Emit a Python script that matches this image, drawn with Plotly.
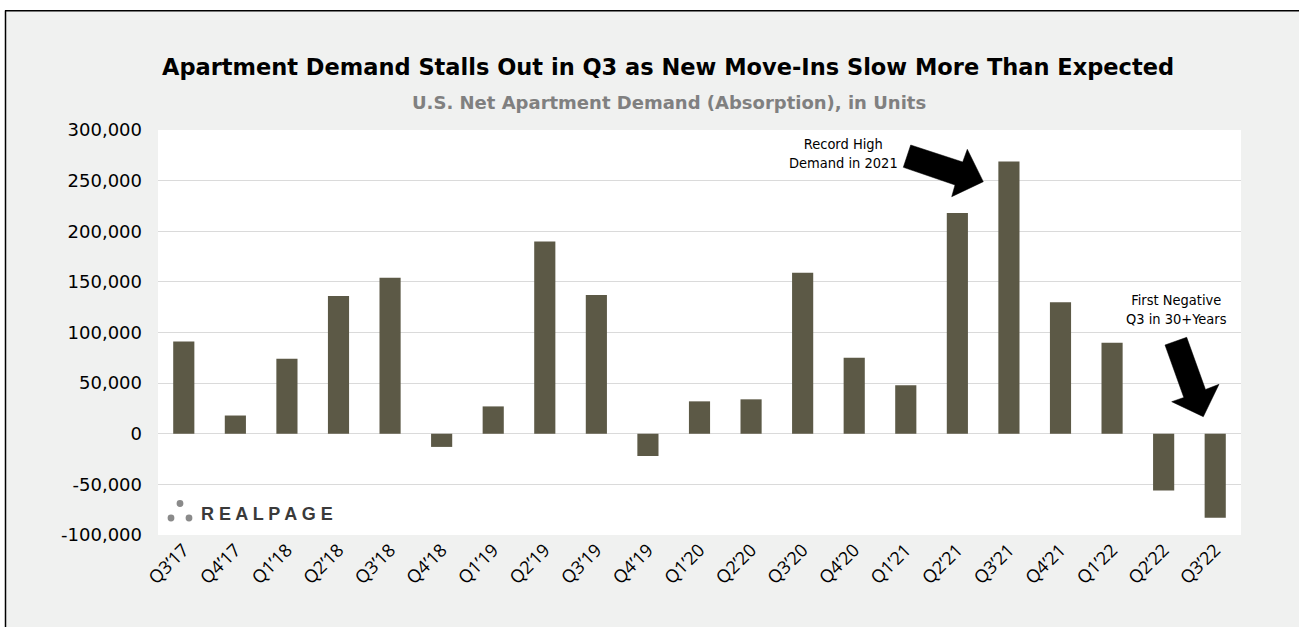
import plotly.graph_objects as go

# ---------------- data ----------------
quarters = ["Q3’17", "Q4’17", "Q1’18", "Q2’18", "Q3’18", "Q4’18", "Q1’19", "Q2’19",
            "Q3’19", "Q4’19", "Q1’20", "Q2’20", "Q3’20", "Q4’20", "Q1’21", "Q2’21",
            "Q3’21", "Q4’21", "Q1’22", "Q2’22", "Q3’22"]
net_demand = [91000, 18000, 74000, 136000, 154000, -13000, 27000, 190000,
              137000, -22000, 32000, 34000, 159000, 75000, 48000, 218000,
              269000, 130000, 90000, -56000, -83000]
y_tick_vals = [-100000, -50000, 0, 50000, 100000, 150000, 200000, 250000, 300000]
y_tick_text = ["-100,000", "-50,000", "0", "50,000", "100,000", "150,000",
               "200,000", "250,000", "300,000"]

title_text = "Apartment Demand Stalls Out in Q3 as New Move-Ins Slow More Than Expected"
subtitle_text = "U.S. Net Apartment Demand (Absorption), in Units"
note_high = "Record High<br>Demand in 2021"
note_neg = "First Negative<br>Q3 in 30+Years"

# ---------------- layout geometry (pixels) ----------------
W, H = 1299, 627
L, R, T, B = 158, 58, 130, 92
PW, PH = W - L - R, H - T - B

def px(x):
    return (x - L) / PW

def py(y):
    return (H - B - y) / PH

def poly(points):
    return "M " + " L ".join(f"{px(a):.5f},{py(b):.5f}" for a, b in points) + " Z"

arrow_high = [(910.7, 145), (962.7, 162), (967.3, 149.3), (983.3, 181.7),
              (951.7, 196.7), (955, 185), (903.3, 167.3)]
arrow_neg = [(1165, 345), (1186.7, 337.3), (1205.5, 389.5), (1219, 384.3),
             (1203.3, 416.7), (1171.7, 401.7), (1183.8, 397.5)]

BAR = "#5c5946"
BG = "#f0f1f0"
GRID = "#dadada"
WIDE = "DejaVu Sans, Verdana, sans-serif"
SANS = "Liberation Sans, Arial, Helvetica, sans-serif"
XFONT = "Open Sans, Liberation Sans, sans-serif"
NARROW = "Liberation Sans Narrow, Arial Narrow, DejaVu Sans Condensed, sans-serif"

fig = go.Figure()
fig.add_trace(go.Bar(x=quarters, y=net_demand, marker=dict(color=BAR, line=dict(width=0)),
                     hoverinfo="x+y"))

shapes = [
    # white strips outside the frame
    dict(type="rect", xref="paper", yref="paper", x0=px(-5), x1=px(5), y0=py(H + 5), y1=py(-5),
         fillcolor="white", line=dict(width=0), layer="below"),
    dict(type="rect", xref="paper", yref="paper", x0=px(-5), x1=px(W + 5), y0=py(10.5), y1=py(-5),
         fillcolor="white", line=dict(width=0), layer="below"),
    # frame lines
    dict(type="line", xref="paper", yref="paper", x0=px(5.5), x1=px(5.5), y0=py(10.5), y1=py(H + 5),
         line=dict(color="black", width=1.5)),
    dict(type="line", xref="paper", yref="paper", x0=px(5), x1=px(W + 5), y0=py(10.8), y1=py(10.8),
         line=dict(color="black", width=1.5)),
    # arrows
    dict(type="path", xref="paper", yref="paper", path=poly(arrow_high),
         fillcolor="black", line=dict(color="black", width=0.5)),
    dict(type="path", xref="paper", yref="paper", path=poly(arrow_neg),
         fillcolor="black", line=dict(color="black", width=0.5)),
]
# logo dots
for cx, cy in [(180, 503.5), (171, 518), (189, 518)]:
    shapes.append(dict(type="circle", xref="paper", yref="paper", xsizemode="pixel",
                       ysizemode="pixel", xanchor=px(cx), yanchor=py(cy),
                       x0=-3.4, x1=3.4, y0=-3.4, y1=3.4,
                       fillcolor="#8a8a8a", line=dict(width=0)))

annotations = [
    dict(text=f"<b>{title_text}</b>", xref="paper", yref="paper", x=px(668), y=py(67),
         xanchor="center", yanchor="middle", showarrow=False,
         font=dict(family=WIDE, size=22.5, color="black")),
    dict(text=f"<b>{subtitle_text}</b>", xref="paper", yref="paper", x=px(668.5), y=py(102),
         xanchor="center", yanchor="middle", showarrow=False,
         font=dict(family=WIDE, size=18, color="#808080")),
    dict(text=note_high, xref="paper", yref="paper", x=px(843), y=py(153),
         xanchor="center", yanchor="middle", showarrow=False, align="center",
         font=dict(family=NARROW, size=14.5, color="black")),
    dict(text=note_neg, xref="paper", yref="paper", x=px(1176.5), y=py(309),
         xanchor="center", yanchor="middle", showarrow=False, align="center",
         font=dict(family=NARROW, size=14.5, color="black")),
    dict(text="<b>R E A L P A G E</b>", xref="paper", yref="paper", x=px(199), y=py(513.5),
         xanchor="left", yanchor="middle", showarrow=False,
         font=dict(family=SANS, size=18, color="#3a3a3a")),
]

fig.update_layout(
    width=W, height=H, autosize=False,
    margin=dict(l=L, r=R, t=T, b=B, pad=0),
    paper_bgcolor=BG, plot_bgcolor="white",
    showlegend=False, bargap=0.59,
    shapes=shapes, annotations=annotations,
    xaxis=dict(type="category", tickangle=-45, showgrid=False, showline=False, zeroline=False,
               ticks="", tickfont=dict(family=XFONT, size=18, color="black")),
    yaxis=dict(range=[-100000, 300000], tickvals=y_tick_vals, ticktext=y_tick_text,
               showgrid=True, gridcolor=GRID, gridwidth=1.3, zeroline=True, zerolinecolor=GRID,
               zerolinewidth=1.3, showline=False, ticks="", ticklabelstandoff=15,
               tickfont=dict(family=WIDE, size=18, color="black")),
)

fig.write_html("out.html", config={"displayModeBar": False},
               post_script="document.body.style.margin='0';document.body.style.overflow='hidden';")
